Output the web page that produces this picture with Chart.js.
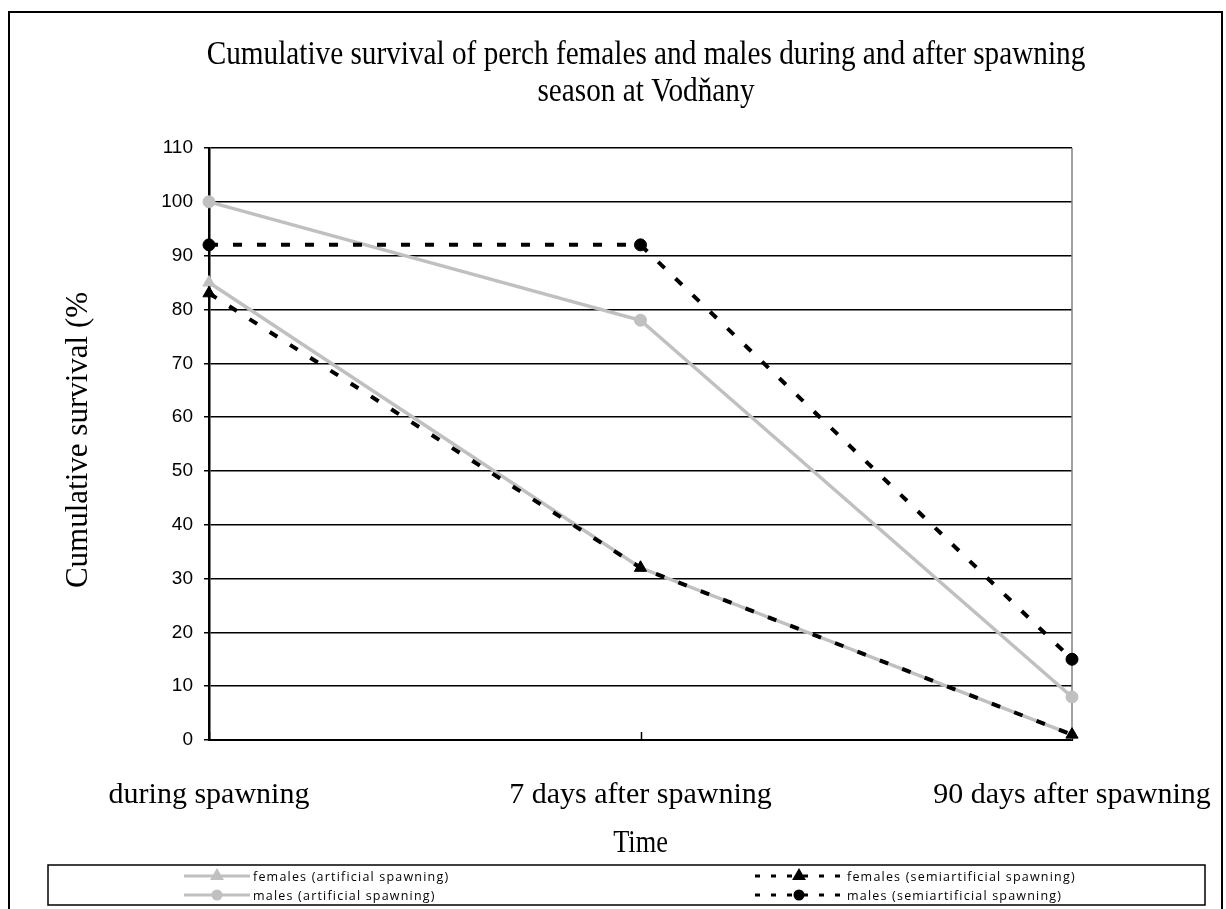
<!DOCTYPE html>
<html>
<head>
<meta charset="utf-8">
<script src="https://cdn.jsdelivr.net/npm/chart.js@4/dist/chart.umd.min.js"></script>
<style>
html,body{margin:0;padding:0;background:#fff;}
#wrap{width:1226px;height:909px;position:relative;}
</style>
</head>
<body>
<div id="wrap"><canvas id="c"></canvas></div>
<script>
// ---- data ----
const categories = ['during spawning', '7 days after spawning', '90 days after spawning'];
const femalesArtificial = [85, 32, 1];
const malesArtificial = [100, 78, 8];
const femalesSemi = [83, 32, 1];
const malesSemi = [92, 92, 15];
const seriesNames = ['females (artificial spawning)', 'males (artificial spawning)', 'females (semiartificial spawning)', 'males (semiartificial spawning)'];
const yMin = 0, yMax = 110, yStep = 10;
const titleLines = ['Cumulative survival of perch females and males during and after spawning', 'season at Vodňany'];
const yTitle = 'Cumulative survival (%';
const xTitle = 'Time';

const GREY = '#c0c0c0';
const SERIF = '"Liberation Serif", "Times New Roman", serif';
const SANS = '"Liberation Sans", Arial, sans-serif';
const DASH = [9, 15];

const datasets = [
  {label: seriesNames[0], data: femalesArtificial, borderColor: GREY, backgroundColor: GREY, borderWidth: 3.5,
   pointStyle: 'triangle', pointRadius: 7, order: 2},
  {label: seriesNames[1], data: malesArtificial, borderColor: GREY, backgroundColor: GREY, borderWidth: 3.5,
   pointStyle: 'circle', pointRadius: 6, order: 2},
  {label: seriesNames[2], data: femalesSemi, borderColor: '#000', backgroundColor: '#000', borderWidth: 4,
   borderDash: DASH, pointStyle: 'triangle', pointRadius: 7, order: 1},
  {label: seriesNames[3], data: malesSemi, borderColor: '#000', backgroundColor: '#000', borderWidth: 4,
   borderDash: DASH, pointStyle: 'circle', pointRadius: 6, order: 1}
].map(d => Object.assign({tension: 0, clip: false, pointBorderWidth: 1, pointBorderColor: d.borderColor,
   pointBackgroundColor: d.backgroundColor, borderCapStyle: 'butt', fill: false}, d));

function condensedText(ctx, text, x, y, size, sx) {
  ctx.save();
  ctx.translate(x, y);
  ctx.scale(sx, 1);
  ctx.font = size + 'px ' + SERIF;
  ctx.textAlign = 'center';
  ctx.textBaseline = 'middle';
  ctx.fillText(text, 0, 0);
  ctx.restore();
}

const decor = {
  id: 'decor',
  beforeDraw(chart) {
    const ctx = chart.ctx;
    ctx.save();
    ctx.fillStyle = '#fff';
    ctx.fillRect(0, 0, chart.width, chart.height);
    ctx.strokeStyle = '#000';
    ctx.lineWidth = 2;
    ctx.strokeRect(9, 12, 1213, 910);
    ctx.restore();
  },
  beforeDatasetsDraw(chart) {
    const ctx = chart.ctx, a = chart.chartArea;
    ctx.save();
    ctx.strokeStyle = '#808080';
    ctx.lineWidth = 1.5;
    ctx.beginPath();
    ctx.moveTo(a.right, a.top);
    ctx.lineTo(a.right, a.bottom);
    ctx.stroke();
    const xs = chart.scales.x;
    ctx.strokeStyle = '#000';
    ctx.lineWidth = 1.5;
    categories.forEach((c, i) => {
      const px = Math.round(xs.getPixelForValue(i)) + 0.5;
      ctx.beginPath();
      ctx.moveTo(px, a.bottom);
      ctx.lineTo(px, a.bottom - 8);
      ctx.stroke();
    });
    ctx.restore();
  },
  afterDraw(chart) {
    const ctx = chart.ctx, a = chart.chartArea;
    ctx.save();
    ctx.fillStyle = '#000';
    // chart title (condensed serif, as in the reference)
    condensedText(ctx, titleLines[0], 646, 55, 34, 0.86);
    condensedText(ctx, titleLines[1], 646, 92, 34, 0.86);
    // x title
    condensedText(ctx, xTitle, (a.left + a.right) / 2, 844, 31, 0.85);
    // y title
    ctx.save();
    ctx.translate(79, 440);
    ctx.rotate(-Math.PI / 2);
    ctx.font = '31px ' + SERIF;
    ctx.textAlign = 'center';
    ctx.textBaseline = 'middle';
    ctx.fillText(yTitle, 0, 0);
    ctx.restore();
    // legend box
    ctx.strokeStyle = '#000';
    ctx.lineWidth = 1.5;
    ctx.strokeRect(48, 865, 1157, 40);
    const slots = [
      {x0: 184, x1: 250, tx: 253, y: 876},
      {x0: 184, x1: 250, tx: 253, y: 895},
      {x0: 755, x1: 843, tx: 847, y: 876},
      {x0: 755, x1: 843, tx: 847, y: 895}
    ];
    chart.data.datasets.forEach((d, i) => {
      const s = slots[i];
      ctx.save();
      ctx.strokeStyle = d.borderColor;
      ctx.fillStyle = d.backgroundColor;
      ctx.lineWidth = 3;
      ctx.setLineDash(d.borderDash ? [5, 11] : []);
      ctx.beginPath();
      ctx.moveTo(s.x0, s.y);
      ctx.lineTo(s.x1, s.y);
      ctx.stroke();
      ctx.setLineDash([]);
      Chart.helpers.drawPoint(ctx, {pointStyle: d.pointStyle, radius: d.pointStyle === 'triangle' ? 5 : 4, rotation: 0, borderWidth: 1},
        (s.x0 + s.x1) / 2, s.y);
      ctx.restore();
      ctx.save();
      ctx.fillStyle = '#000';
      ctx.textAlign = 'left';
      ctx.textBaseline = 'middle';
      ctx.font = '12.5px "Open Sans", sans-serif';
      if ('letterSpacing' in ctx) ctx.letterSpacing = '1.2px';
      ctx.fillText(d.label, s.tx, s.y + 1);
      ctx.restore();
    });
    ctx.restore();
  }
};

new Chart(document.getElementById('c'), {
  type: 'line',
  data: {labels: categories, datasets: datasets},
  options: {
    responsive: true,
    maintainAspectRatio: false,
    animation: false,
    events: [],
    layout: {padding: {top: 148, right: 154, bottom: 0, left: 0}},
    plugins: {legend: {display: false}, title: {display: false}, tooltip: {enabled: false}},
    scales: {
      x: {
        type: 'category',
        offset: false,
        grid: {display: false, drawTicks: false},
        border: {display: true, color: '#000', width: 2},
        ticks: {color: '#000', font: {family: SERIF, size: 30}, padding: 37, maxRotation: 0, autoSkip: false},
        afterFit(s) { s.height = 169; s.paddingLeft = 0; s.paddingRight = 0; }
      },
      y: {
        min: yMin, max: yMax,
        grid: {color: '#000', lineWidth: 1.5, tickLength: 5, drawTicks: true},
        border: {display: true, color: '#000', width: 2.5},
        ticks: {stepSize: yStep, color: '#000', font: {family: SANS, size: 19}, padding: 11},
        afterFit(s) { s.width = 209; }
      }
    }
  },
  plugins: [decor]
});
</script>
</body>
</html>
